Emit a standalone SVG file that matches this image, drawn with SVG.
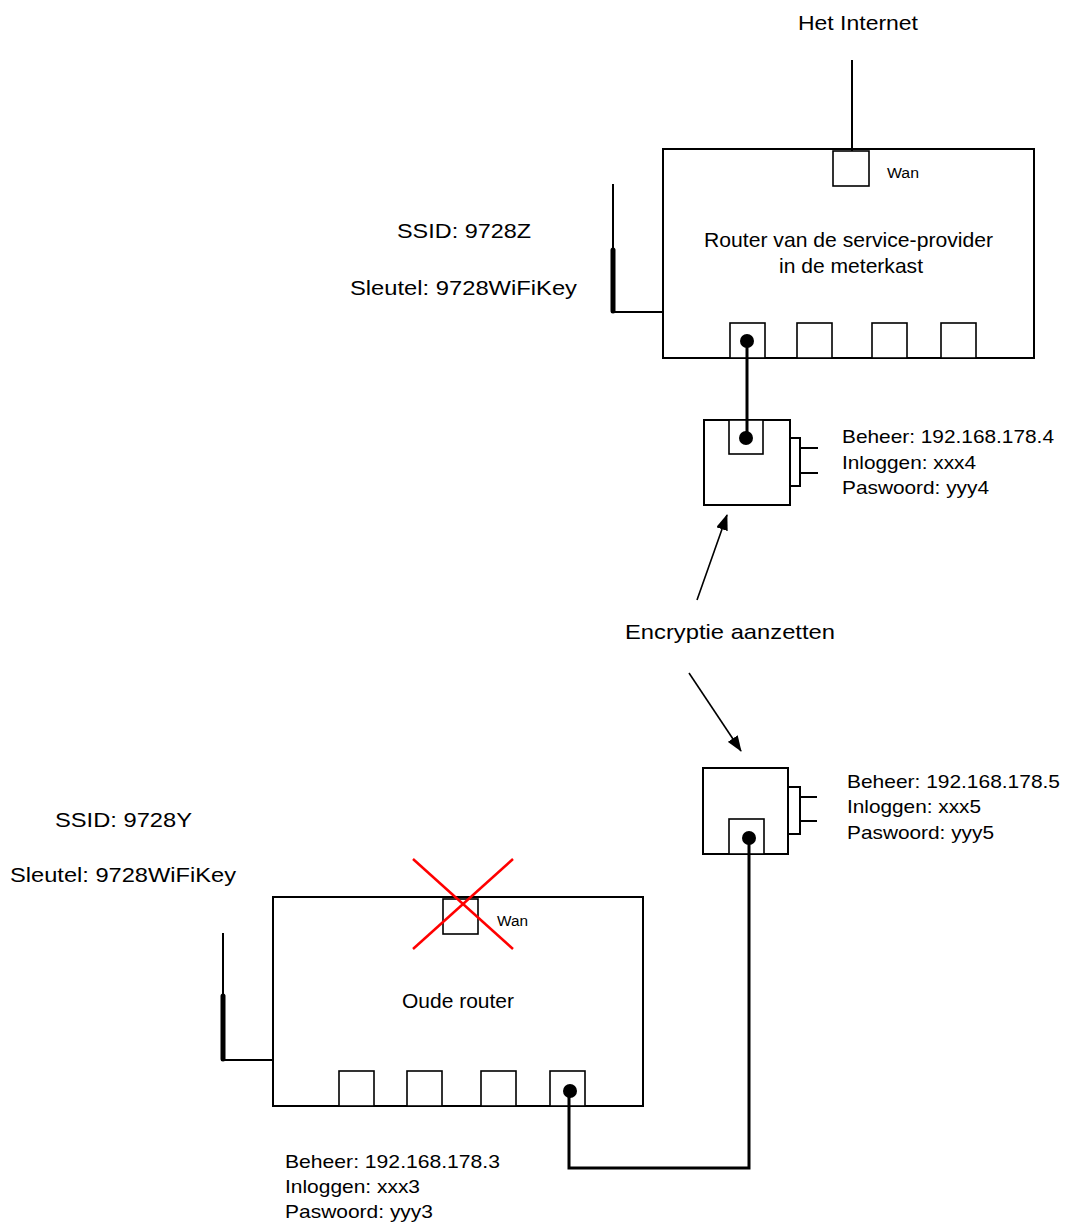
<svg xmlns="http://www.w3.org/2000/svg" width="1066" height="1225" viewBox="0 0 1066 1225">
<style>
text{font-family:"Liberation Sans",Arial,sans-serif;fill:#000}
.big{font-size:21px}
.info{font-size:18.5px}
.wan{font-size:14px}
.box{fill:#fff;stroke:#000;stroke-width:2}
.port{fill:#fff;stroke:#000;stroke-width:1.6}
.cable{fill:none;stroke:#000;stroke-width:3}
.thin{fill:none;stroke:#000;stroke-width:2}
.thick{fill:none;stroke:#000;stroke-width:5;stroke-linecap:round}
.arrow{fill:none;stroke:#000;stroke-width:1.6}
</style>
<defs>
<marker id="ah" viewBox="0 0 16 12" refX="15" refY="6" markerWidth="16" markerHeight="12" markerUnits="userSpaceOnUse" orient="auto">
<path d="M0,0 L16,6 L0,12 z" fill="#000"/>
</marker>
</defs>
<rect width="1066" height="1225" fill="#fff"/>

<g id="internet">
<text class="big" x="798" y="30" textLength="120" lengthAdjust="spacingAndGlyphs">Het Internet</text>
</g>

<g id="router-provider">
<rect class="box" x="663" y="149" width="371" height="209"/>
<rect class="port" x="833" y="151" width="36" height="35"/>
<text class="wan" x="887" y="178" textLength="32" lengthAdjust="spacingAndGlyphs">Wan</text>
<text class="big" x="704" y="247" textLength="289" lengthAdjust="spacingAndGlyphs">Router van de service-provider</text>
<text class="big" x="779" y="273" textLength="144" lengthAdjust="spacingAndGlyphs">in de meterkast</text>
<rect class="port" x="730" y="323" width="35" height="35"/>
<rect class="port" x="797" y="323" width="35" height="35"/>
<rect class="port" x="872" y="323" width="35" height="35"/>
<rect class="port" x="941" y="323" width="35" height="35"/>
<line class="thin" x1="613" y1="184" x2="613" y2="250"/>
<line class="thick" x1="613" y1="250" x2="613" y2="311"/>
<line class="thin" x1="611" y1="312" x2="663" y2="312"/>
<text class="big" x="397" y="238" textLength="134" lengthAdjust="spacingAndGlyphs">SSID: 9728Z</text>
<text class="big" x="350" y="295" textLength="227" lengthAdjust="spacingAndGlyphs">Sleutel: 9728WiFiKey</text>
</g>

<g id="adapter-4">
<rect class="box" x="704" y="420" width="86" height="85"/>
<rect class="port" x="729" y="420" width="34" height="34"/>
<rect class="box" x="790" y="438" width="10" height="48"/>
<line class="thin" x1="800" y1="448" x2="818" y2="448"/>
<line class="thin" x1="800" y1="473" x2="818" y2="473"/>
<text class="info" x="842" y="443" textLength="212" lengthAdjust="spacingAndGlyphs">Beheer: 192.168.178.4</text>
<text class="info" x="842" y="469" textLength="134" lengthAdjust="spacingAndGlyphs">Inloggen: xxx4</text>
<text class="info" x="842" y="494" textLength="147" lengthAdjust="spacingAndGlyphs">Paswoord: yyy4</text>
</g>

<g id="encryptie">
<text class="big" x="625" y="639" textLength="210" lengthAdjust="spacingAndGlyphs">Encryptie aanzetten</text>
</g>

<g id="adapter-5">
<rect class="box" x="703" y="768" width="85" height="86"/>
<rect class="port" x="729" y="819" width="35" height="35"/>
<rect class="box" x="788" y="787" width="12" height="47"/>
<line class="thin" x1="800" y1="797" x2="817" y2="797"/>
<line class="thin" x1="800" y1="821" x2="817" y2="821"/>
<text class="info" x="847" y="788" textLength="213" lengthAdjust="spacingAndGlyphs">Beheer: 192.168.178.5</text>
<text class="info" x="847" y="813" textLength="134" lengthAdjust="spacingAndGlyphs">Inloggen: xxx5</text>
<text class="info" x="847" y="839" textLength="147" lengthAdjust="spacingAndGlyphs">Paswoord: yyy5</text>
</g>

<g id="oude-router">
<rect class="box" x="273" y="897" width="370" height="209"/>
<rect class="port" x="443" y="899" width="35" height="35"/>
<text class="wan" x="497" y="926" textLength="31" lengthAdjust="spacingAndGlyphs">Wan</text>
<line x1="413" y1="859" x2="513" y2="949" stroke="#ff0000" stroke-width="2.5"/>
<line x1="513" y1="859" x2="413" y2="949" stroke="#ff0000" stroke-width="2.5"/>
<text class="big" x="402" y="1008" textLength="112" lengthAdjust="spacingAndGlyphs">Oude router</text>
<rect class="port" x="339" y="1071" width="35" height="35"/>
<rect class="port" x="407" y="1071" width="35" height="35"/>
<rect class="port" x="481" y="1071" width="35" height="35"/>
<rect class="port" x="550" y="1071" width="35" height="35"/>
<line class="thin" x1="223" y1="933" x2="223" y2="996"/>
<line class="thick" x1="223" y1="996" x2="223" y2="1059"/>
<line class="thin" x1="221" y1="1060" x2="273" y2="1060"/>
<text class="big" x="55" y="827" textLength="137" lengthAdjust="spacingAndGlyphs">SSID: 9728Y</text>
<text class="big" x="10" y="882" textLength="226" lengthAdjust="spacingAndGlyphs">Sleutel: 9728WiFiKey</text>
<text class="info" x="285" y="1168" textLength="215" lengthAdjust="spacingAndGlyphs">Beheer: 192.168.178.3</text>
<text class="info" x="285" y="1193" textLength="135" lengthAdjust="spacingAndGlyphs">Inloggen: xxx3</text>
<text class="info" x="285" y="1218" textLength="148" lengthAdjust="spacingAndGlyphs">Paswoord: yyy3</text>
</g>

<g id="connectors">
<line class="thin" x1="852" y1="60" x2="852" y2="151"/>
<line class="cable" x1="747" y1="341" x2="747" y2="438"/>
<circle cx="747" cy="341" r="7" fill="#000"/>
<circle cx="746" cy="438" r="7" fill="#000"/>
<polyline class="cable" points="569,1091 569,1168 749,1168 749,838"/>
<circle cx="749" cy="838" r="7" fill="#000"/>
<circle cx="570" cy="1091" r="7" fill="#000"/>
<line class="arrow" x1="697" y1="600" x2="727" y2="515" marker-end="url(#ah)"/>
<line class="arrow" x1="689" y1="673" x2="741" y2="751" marker-end="url(#ah)"/>
</g>
</svg>
